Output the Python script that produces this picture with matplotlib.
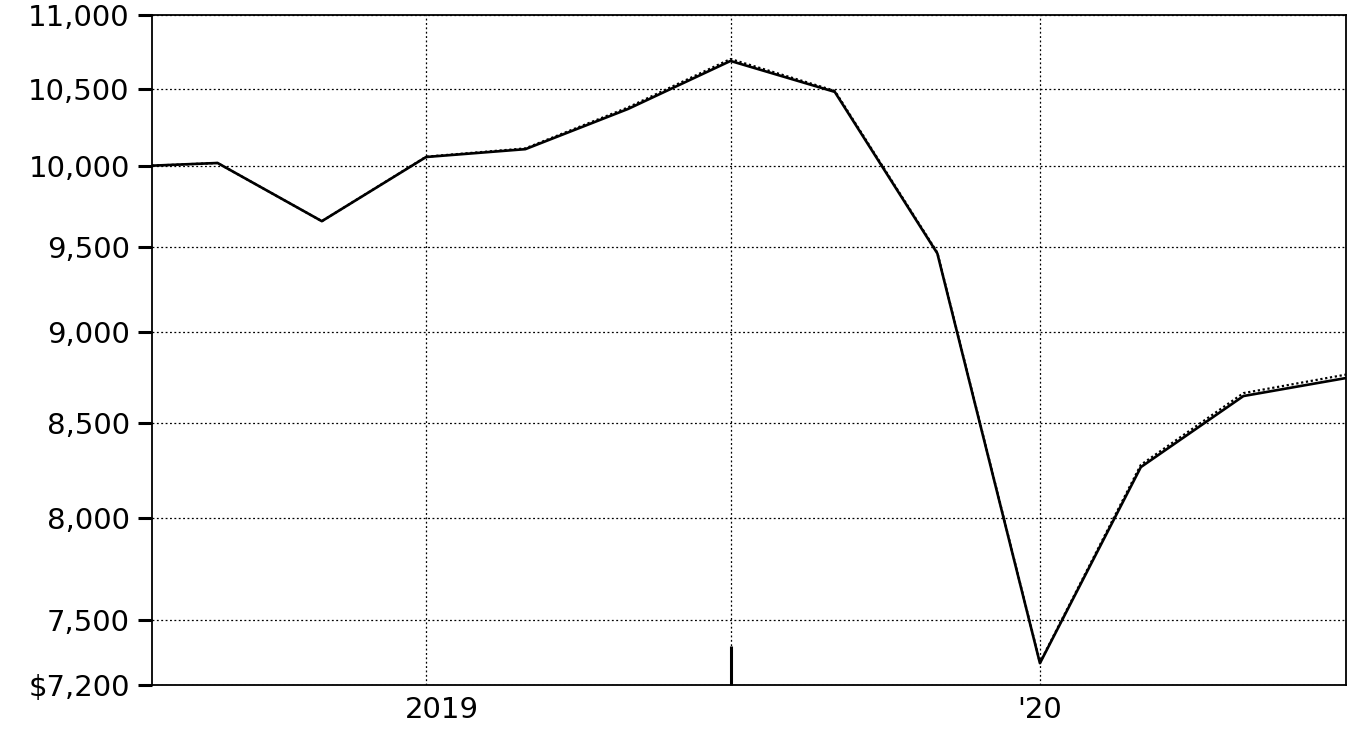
import matplotlib
matplotlib.use("Agg")
import matplotlib.pyplot as plt
import matplotlib.dates as mdates
import matplotlib.transforms as mtransforms
import pandas as pd
from matplotlib.ticker import FixedLocator, FuncFormatter, NullLocator

dates = ["2018-07-22", "2018-08-30", "2018-10-31", "2019-01-01", "2019-03-01",
         "2019-05-01", "2019-07-01", "2019-09-01", "2019-11-01", "2020-01-01",
         "2020-03-01", "2020-05-01", "2020-07-01"]
fund = [10000, 10017, 9655, 10055, 10105, 10365, 10685, 10478, 9460, 7300,
        8264, 8644, 8743]
benchmark = [10000, 10017, 9655, 10057, 10110, 10375, 10698, 10485, 9465, 7303,
             8276, 8660, 8762]
yticks = [7200, 7500, 8000, 8500, 9000, 9500, 10000, 10500, 11000]
xtick_dates = ["2019-01-01", "2020-01-01"]
xtick_labels = ["2019", "'20"]
mid_tick = ["2019-07-01"]

x = pd.to_datetime(dates)
plt.rcParams['font.family'] = ['DejaVu Sans']

fig = plt.figure(figsize=(13.63, 7.40), dpi=100)
ax = fig.add_axes([152/1363, 1-685/740, (1346-152)/1363, (685-15)/740])

ax.plot(x, benchmark, color="black", linestyle=(0, (1, 1.2)), linewidth=1.6, zorder=3)
ax.plot(x, fund, color="black", linestyle="-", linewidth=1.9, zorder=4)

ax.set_yscale("log")
ax.set_ylim(7200, 11000)
ax.set_xlim(x[0], x[-1])
ax.yaxis.set_major_locator(FixedLocator(yticks))
ax.yaxis.set_minor_locator(NullLocator())
ax.yaxis.set_major_formatter(FuncFormatter(
    lambda v, p: ("$" if abs(v - 7200) < 1 else "") + f"{v:,.0f}"))

xt = mdates.date2num(pd.to_datetime(xtick_dates))
xm = mdates.date2num(pd.to_datetime(mid_tick))
ax.set_xticks(xt)
ax.set_xticklabels(xtick_labels)
ax.xaxis.set_minor_locator(FixedLocator(xm))

ax.tick_params(axis="y", which="major", direction="out", length=10, width=2.2,
               labelsize=21, pad=6, colors="black")
ax.tick_params(axis="x", which="major", length=0, labelsize=21, pad=8)
ax.tick_params(axis="x", which="minor", direction="in", length=28, width=2.2)

ax.grid(True, which="major", axis="both", color="black", linestyle=(0, (1.5, 2)), linewidth=0.9)
ax.grid(True, which="minor", axis="x", color="black", linestyle=(0, (1.5, 2)), linewidth=0.9)
ax.set_axisbelow(True)

# shift the "2019" label slightly right, as in the original
lbl = ax.get_xticklabels()[0]
lbl.set_transform(lbl.get_transform() + mtransforms.ScaledTranslation(16/100, 0, fig.dpi_scale_trans))

for s in ax.spines.values():
    s.set_color("black")
    s.set_linewidth(1.3)

fig.savefig("out.png", dpi=100, facecolor="white")
